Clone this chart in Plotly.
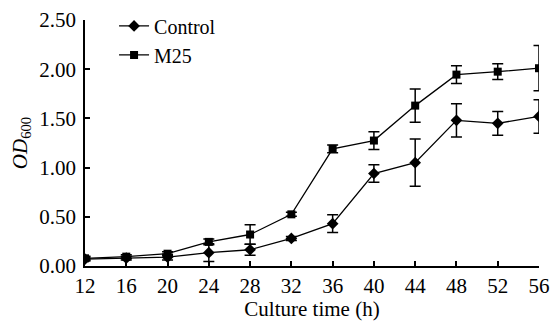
import plotly.graph_objects as go

hours = [12, 16, 20, 24, 28, 32, 36, 40, 44, 48, 52, 56]
control = [0.07, 0.08, 0.09, 0.135, 0.165, 0.28, 0.43, 0.94, 1.05, 1.48, 1.45, 1.52]
control_err = [0.02, 0.02, 0.03, 0.09, 0.055, 0.02, 0.09, 0.09, 0.24, 0.17, 0.12, 0.17]
m25 = [0.078, 0.095, 0.125, 0.245, 0.32, 0.525, 1.19, 1.275, 1.63, 1.945, 1.975, 2.01]
m25_err = [0.02, 0.02, 0.02, 0.03, 0.10, 0.02, 0.04, 0.09, 0.17, 0.09, 0.08, 0.23]

font_family = "Liberation Serif"

fig = go.Figure()
fig.add_trace(go.Scatter(
    x=hours, y=control, name="Control", mode="lines+markers",
    line=dict(color="black", width=1.3),
    marker=dict(symbol="diamond", size=9, color="black"),
    error_y=dict(type="data", array=control_err, visible=True, color="black", thickness=1.5, width=5.5),
))
fig.add_trace(go.Scatter(
    x=hours, y=m25, name="M25", mode="lines+markers",
    line=dict(color="black", width=1.3),
    marker=dict(symbol="square", size=8, color="black"),
    error_y=dict(type="data", array=m25_err, visible=True, color="black", thickness=1.5, width=5.5),
))

fig.update_layout(
    width=550, height=321,
    margin=dict(l=85, r=11, t=20, b=55, autoexpand=False),
    paper_bgcolor="white", plot_bgcolor="white",
    font=dict(family=font_family, size=21, color="black"),
    showlegend=True,
    legend=dict(x=0.064, y=1.055, xanchor="left", yanchor="top",
                bgcolor="rgba(0,0,0,0)", font=dict(size=20),
                itemwidth=30, tracegroupgap=0),
    xaxis=dict(
        range=[12, 56], tickmode="linear", tick0=12, dtick=4,
        showline=True, linecolor="black", linewidth=1.5,
        ticks="inside", ticklen=5, tickwidth=1.5, tickcolor="black",
        showgrid=False, zeroline=False, automargin=False,
        title=dict(text="Culture time (h)", font=dict(size=21), standoff=8),
        tickfont=dict(size=21),
    ),
    yaxis=dict(
        range=[0, 2.5], tickmode="linear", tick0=0, dtick=0.5, tickformat=".2f",
        showline=True, linecolor="black", linewidth=1.5,
        ticks="inside", ticklen=5, tickwidth=1.5, tickcolor="black",
        showgrid=False, zeroline=False, automargin=False,
        ticklabelstandoff=3,
        title=dict(text="<i>OD</i><sub>600</sub>", font=dict(size=21), standoff=6),
        tickfont=dict(size=21),
    ),
)

# remove the default page margin so the figure fills the 550x321 window exactly
fig.write_html(
    "out.html",
    config={"displayModeBar": False},
    post_script="document.body.style.margin='0';document.body.style.overflow='hidden';",
)
